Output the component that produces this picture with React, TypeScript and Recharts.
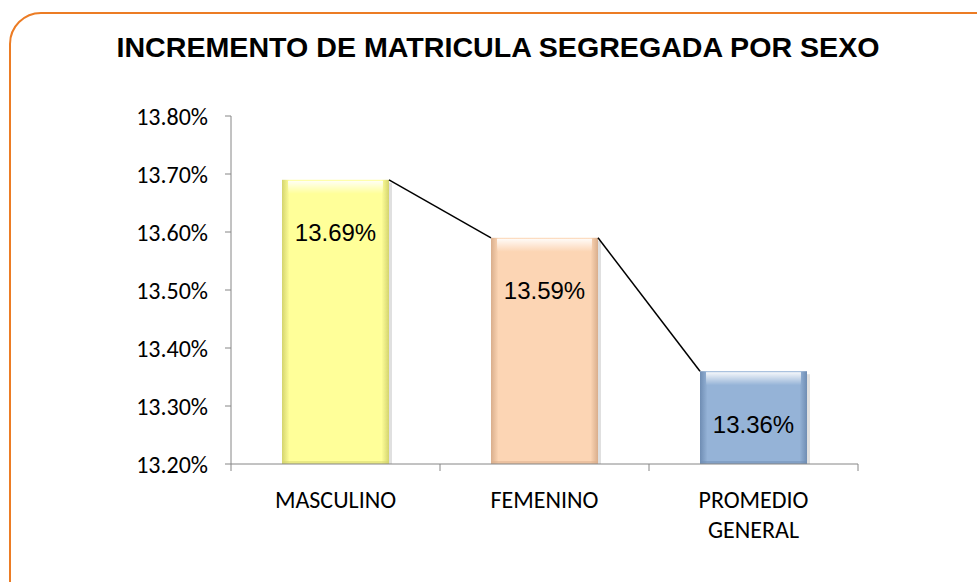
import { BarChart, Bar, XAxis, YAxis, LabelList } from "recharts";

const categories = ["MASCULINO", "FEMENINO", "PROMEDIO GENERAL"];
const values = [13.69, 13.59, 13.36];
const colors = ["#FFFF99", "#FCD5B4", "#95B3D7"];
const edgeColors = ["#D4D46E", "#D9AE8C", "#6F8DB3"];
const yTicks = [13.2, 13.3, 13.4, 13.5, 13.6, 13.7, 13.8];
const Y_MIN = 13.2;

const data = categories.map((name, i) => ({ name, value: values[i], idx: i }));

const W = 977;
const H = 582;
const MARGIN = { top: 116, right: 119, bottom: 58, left: 131 };
const Y_AXIS_W = 100;
const BAND = (W - MARGIN.left - MARGIN.right - Y_AXIS_W) / categories.length;

const axisFont = "Carlito, Calibri, Lato, sans-serif";
const labelFont = "'Liberation Sans', Arial, sans-serif";

function BevelBar(props: any) {
  const { x, y, width, height, index } = props;
  const id = `bar-${index}`;
  const base = y + height;
  const ppu = height / (values[index] - Y_MIN);
  const next = index < values.length - 1 ? base - (values[index + 1] - Y_MIN) * ppu : null;
  return (
    <g>
      <defs>
        <linearGradient id={`${id}-h`} x1="0" y1="0" x2="1" y2="0">
          <stop offset="0%" stopColor={edgeColors[index]} />
          <stop offset="7%" stopColor={colors[index]} />
          <stop offset="93%" stopColor={colors[index]} />
          <stop offset="100%" stopColor={edgeColors[index]} />
        </linearGradient>
        <linearGradient id={`${id}-v`} x1="0" y1="0" x2="0" y2="1">
          <stop offset="0%" stopColor="#ffffff" stopOpacity={0.9} />
          <stop offset="100%" stopColor="#ffffff" stopOpacity={0} />
        </linearGradient>
      </defs>
      <rect x={x + 3} y={y + 3} width={width} height={height} fill="#000" opacity={0.12} />
      <rect x={x} y={y} width={width} height={height} fill={`url(#${id}-h)`} />
      <rect x={x + 6} y={y + 1} width={width - 12} height={13} fill={`url(#${id}-v)`} />
      <rect x={x} y={y + height - 3} width={width} height={3} fill={edgeColors[index]} opacity={0.5} />
      {next !== null && (
        <line x1={x + width} y1={y} x2={x + BAND} y2={next} stroke="#000" strokeWidth={1.5} />
      )}
    </g>
  );
}

function ValueLabel(props: any) {
  const { x, y, width, value } = props;
  return (
    <text
      x={x + width / 2}
      y={y + 55}
      textAnchor="middle"
      dominantBaseline="middle"
      fontFamily={labelFont}
      fontSize={24}
      fill="#000"
    >
      {`${Number(value).toFixed(2)}%`}
    </text>
  );
}

function CategoryTick(props: any) {
  const { x, y, payload, index, visibleTicksCount } = props;
  const words = String(payload.value).split(" ");
  const lines = words.length > 1 && payload.value.length > 10 ? words : [payload.value];
  return (
    <g>
      <line x1={x - BAND / 2} y1={y} x2={x - BAND / 2} y2={y + 7} stroke="#868686" />
      {index === visibleTicksCount - 1 && (
        <line x1={x + BAND / 2} y1={y} x2={x + BAND / 2} y2={y + 7} stroke="#868686" />
      )}
      <text textAnchor="middle" fontFamily={axisFont} fontSize={24} fill="#000">
        {lines.map((l: string, i: number) => (
          <tspan key={i} x={x} y={y + 44 + i * 30}>
            {l}
          </tspan>
        ))}
      </text>
    </g>
  );
}

export default function App() {
  return (
    <div style={{ position: "fixed", left: 0, top: 0, width: W, height: H, overflow: "hidden", background: "#fff" }}>
      <div
        style={{
          position: "absolute",
          left: 9,
          top: 12,
          width: 1000,
          height: 620,
          border: "2px solid #EC7C24",
          borderRadius: 32,
          boxSizing: "border-box",
        }}
      />
      <svg style={{ position: "absolute", left: 0, top: 0 }} width={W} height={80}>
        <text
          x={498}
          y={57}
          textAnchor="middle"
          fontFamily={labelFont}
          fontWeight="bold"
          fontSize={28}
          textLength={763}
          lengthAdjust="spacingAndGlyphs"
          fill="#000"
        >
          INCREMENTO DE MATRICULA SEGREGADA POR SEXO
        </text>
      </svg>
      <div style={{ position: "absolute", left: 0, top: 0 }}>
        <BarChart width={W} height={H} data={data} margin={MARGIN}>
          <XAxis
            dataKey="name"
            axisLine={{ stroke: "#868686" }}
            tickLine={false}
            tickSize={0}
            tickMargin={0}
            height={60}
            interval={0}
            tick={<CategoryTick />}
          />
          <YAxis
            width={Y_AXIS_W}
            domain={[13.2, 13.8]}
            ticks={yTicks}
            allowDataOverflow
            axisLine={{ stroke: "#868686" }}
            tickLine={{ stroke: "#868686" }}
            tickSize={6}
            tickMargin={17}
            tickFormatter={(v: number) => `${v.toFixed(2)}%`}
            tick={{ fontFamily: axisFont, fontSize: 24, fill: "#000" }}
          />
          <Bar dataKey="value" barSize={107} isAnimationActive={false} shape={<BevelBar />}>
            <LabelList dataKey="value" content={<ValueLabel />} />
          </Bar>
        </BarChart>
      </div>
    </div>
  );
}
